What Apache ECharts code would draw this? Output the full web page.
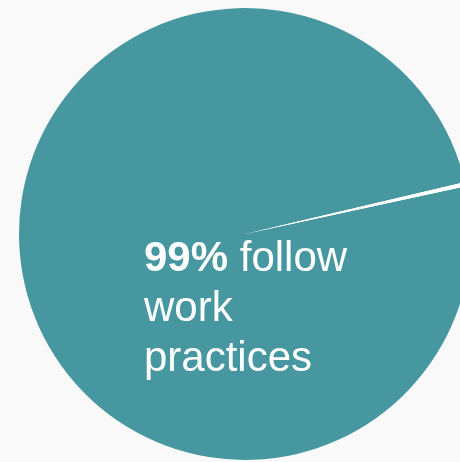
<!DOCTYPE html>
<html>
<head>
<meta charset="utf-8">
<script src="https://cdn.jsdelivr.net/npm/echarts@6/dist/echarts.min.js"></script>
<style>
html,body{margin:0;padding:0;background:#f9f9f9;}
#chart{width:460px;height:462px;}
</style>
</head>
<body>
<div id="chart"></div>
<script>
var categories = ['Follow work practices', 'Do not follow'];
var values = [99.7, 0.3];
var colors = ['#46979f', '#ffffff'];
var labelPct = '99%';
var labelRest = ['follow', 'work', 'practices'];

var chart = echarts.init(document.getElementById('chart'), null, {renderer: 'canvas'});
chart.setOption({
  backgroundColor: '#f9f9f9',
  animation: false,
  title: {
    text: '{b|' + labelPct + '} ' + labelRest[0] + '\n' + labelRest[1] + '\n' + labelRest[2],
    left: 144,
    top: 234,
    padding: 0,
    textStyle: {
      color: '#ffffff',
      fontFamily: 'Liberation Sans',
      fontSize: 42,
      fontWeight: 'normal',
      lineHeight: 50,
      rich: {
        b: {color: '#ffffff', fontFamily: 'Liberation Sans', fontSize: 42, fontWeight: 'bold', lineHeight: 50}
      }
    }
  },
  series: [{
    type: 'pie',
    center: [245, 234],
    radius: 226,
    startAngle: 13.3,
    clockwise: false,
    silent: true,
    label: {show: false},
    labelLine: {show: false},
    itemStyle: {borderWidth: 0},
    data: categories.map(function (c, i) {
      return {name: c, value: values[i], itemStyle: {color: colors[i]}};
    })
  }]
});
</script>
</body>
</html>
